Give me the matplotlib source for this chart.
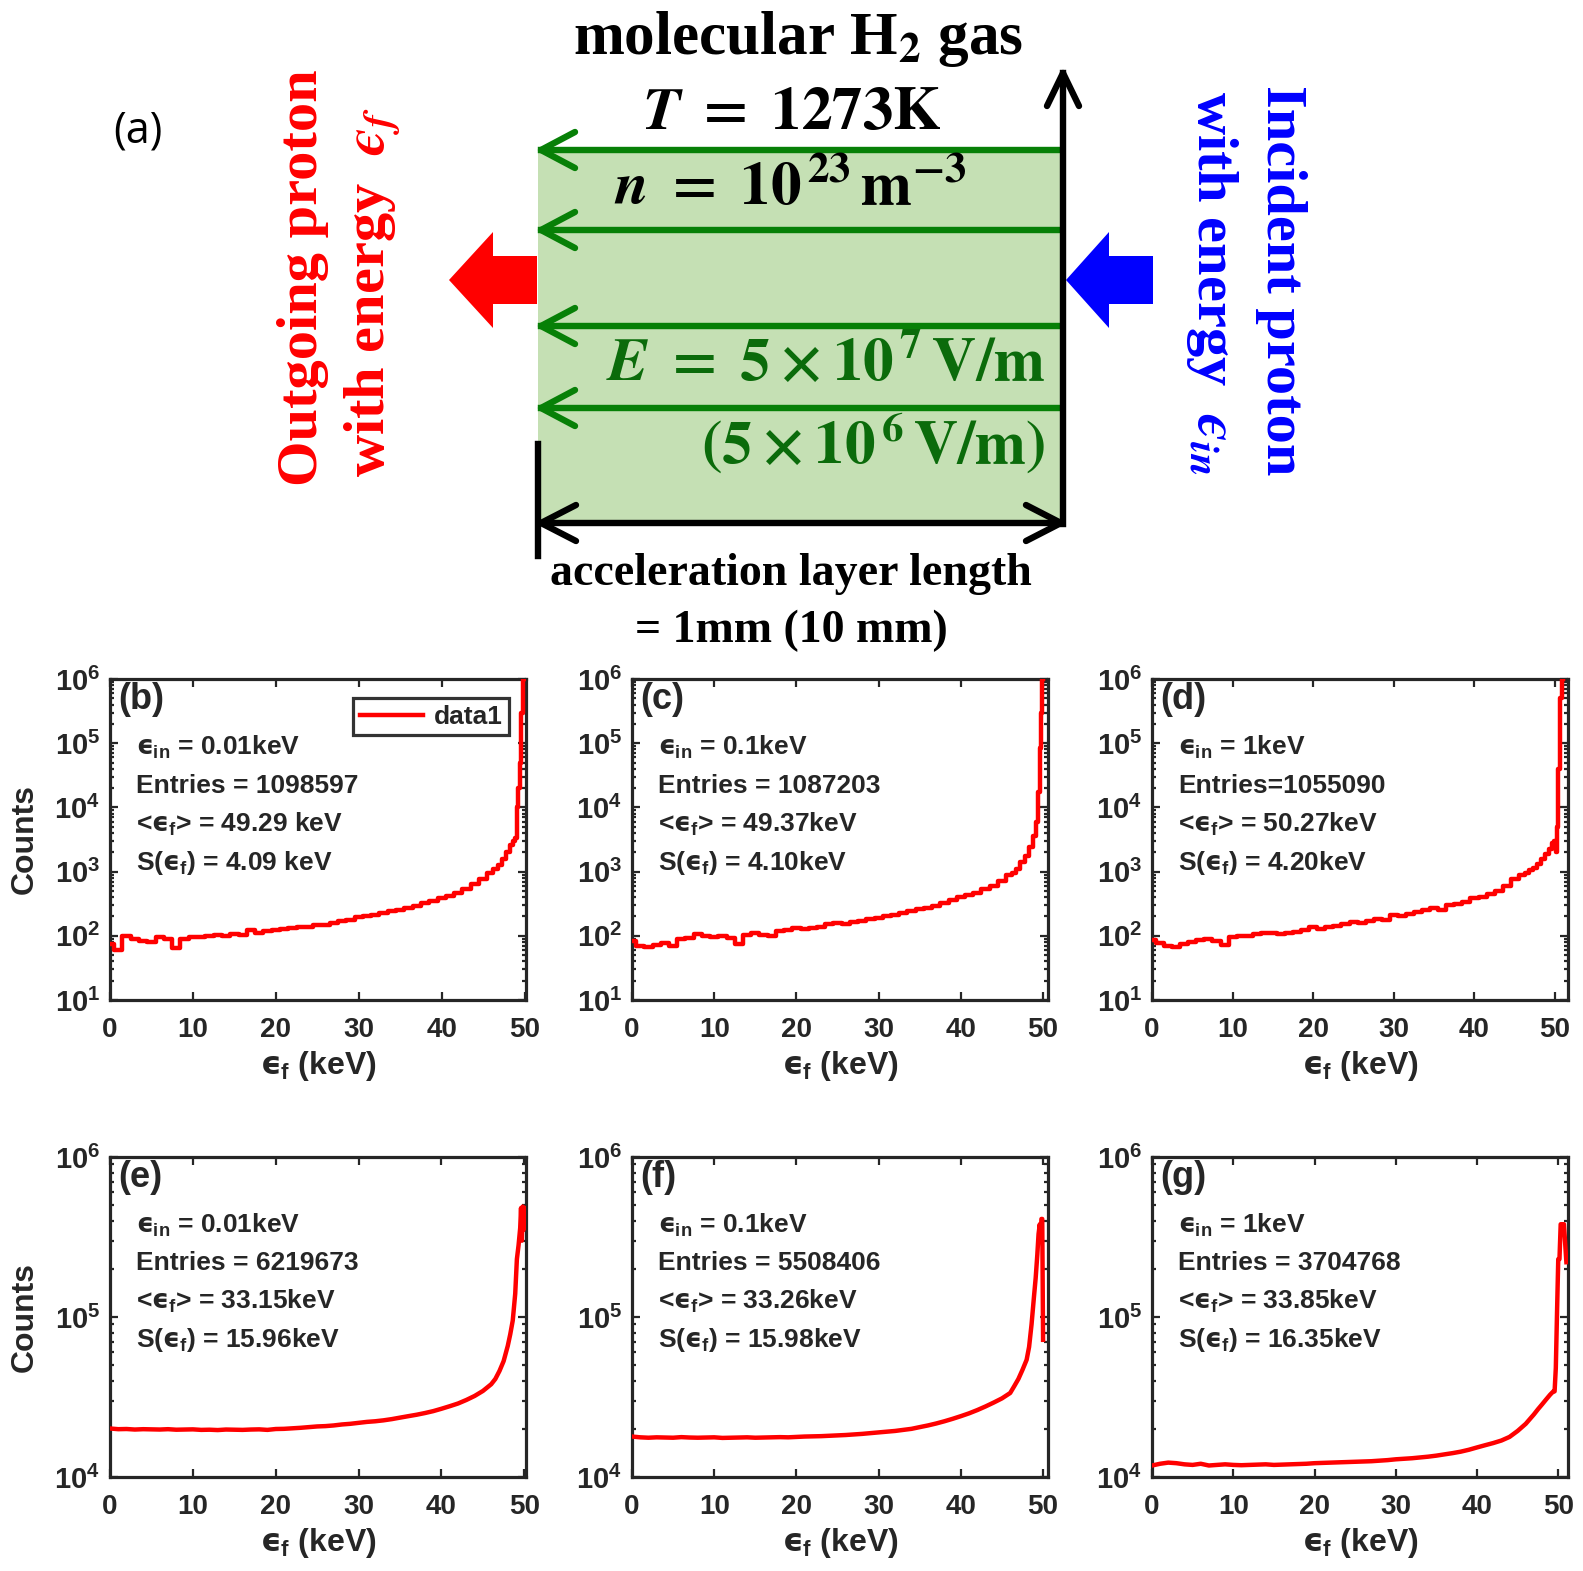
import numpy as np
import matplotlib
matplotlib.use('Agg')
import matplotlib.pyplot as plt
from matplotlib.patches import Polygon, Rectangle

plt.rcParams['font.family'] = ['Liberation Sans', 'DejaVu Sans']
plt.rcParams['font.weight'] = 'bold'
plt.rcParams['axes.labelweight'] = 'bold'
plt.rcParams['mathtext.fontset'] = 'custom'
plt.rcParams['mathtext.rm'] = 'Liberation Sans:bold'
plt.rcParams['mathtext.bf'] = 'Liberation Sans:bold'
plt.rcParams['mathtext.it'] = 'DejaVu Sans:bold'
plt.rcParams['mathtext.sf'] = 'Liberation Sans:bold'

EPS = '\u03f5'  # lunate epsilon

# ---------------- data ----------------
x_base = np.arange(47)  # 0..46 keV

y_b = [75, 60, 100, 88, 82, 80, 95, 88, 65, 90, 95, 97, 100, 103, 98, 106, 102, 125, 110, 118,
       125, 128, 132, 138, 135, 148, 145, 160, 170, 178, 195, 200, 210, 225, 240, 255, 270, 290,
       320, 350, 390, 420, 470, 540, 640, 760, 960]
xt_b = [46.5, 47, 47.5, 48, 48.5, 48.8, 49.0, 49.1, 49.3, 49.5, 49.7, 49.85, 50.0]
yt_b = [1080, 1250, 1550, 2000, 2600, 3000, 3300, 10000, 20000, 50000, 300000, 1000000, 1000000]

y_c = [82, 69, 68, 72, 78, 70, 88, 92, 105, 98, 95, 100, 92, 75, 102, 110, 104, 100, 118, 122,
       134, 128, 130, 138, 150, 160, 152, 165, 172, 182, 192, 200, 212, 225, 240, 260, 275, 295,
       320, 355, 395, 430, 470, 530, 600, 720, 880]
xt_c = [46.5, 47, 47.5, 48, 48.5, 49, 49.3, 49.5, 49.7, 49.8, 49.9, 50.0]
yt_c = [960, 1100, 1400, 1780, 2400, 3600, 6000, 17500, 85000, 300000, 1000000, 1000000]

y_d = [85, 78, 70, 68, 75, 80, 85, 88, 82, 72, 95, 100, 98, 105, 110, 112, 108, 112, 115, 125,
       137, 128, 135, 140, 150, 165, 160, 170, 185, 175, 210, 205, 220, 235, 250, 270, 255, 300,
       310, 340, 385, 400, 440, 500, 590, 760, 880]
xt_d = [46.5, 47, 47.5, 48, 48.5, 49, 49.5, 49.8, 50.0, 50.1, 50.3, 50.5, 50.7, 50.9, 51.0]
yt_d = [950, 1050, 1150, 1300, 1550, 1850, 2260, 2800, 3000, 2000, 5000, 40000, 500000, 1000000, 1000000]

y_e = [20100, 19900, 19950, 19800, 19900, 19850, 19800, 19900, 19750, 19800, 19850, 19700, 19750,
       19650, 19800, 19750, 19700, 19800, 19850, 19700, 19950, 20000, 20150, 20300, 20500, 20700,
       20800, 21000, 21300, 21500, 21800, 22100, 22300, 22600, 23000, 23500, 24000, 24500, 25100,
       25800, 26700, 27700, 28800, 30300, 32100, 34500, 38000]
xt_e = [46.5, 47, 47.5, 48, 48.3, 48.6, 48.9, 49.1, 49.3, 49.5, 49.6, 49.7, 49.8, 49.9, 50.0]
yt_e = [41000, 46000, 53000, 66000, 78000, 95000, 140000, 230000, 280000, 360000, 480000, 300000,
        490000, 350000, 480000]

y_f = [17900, 17700, 17600, 17700, 17650, 17600, 17750, 17650, 17600, 17650, 17700, 17550, 17600,
       17650, 17700, 17600, 17650, 17700, 17750, 17700, 17800, 17900, 17950, 18000, 18100, 18200,
       18300, 18450, 18600, 18800, 19000, 19200, 19400, 19700, 20000, 20500, 21000, 21600, 22300,
       23100, 24000, 25000, 26200, 27600, 29200, 31000, 33500]
xt_f = [46.5, 47, 47.5, 48, 48.3, 48.6, 48.9, 49.1, 49.3, 49.45, 49.6, 49.7, 49.8, 49.9, 50.0]
yt_f = [37000, 41000, 46800, 54000, 65000, 90000, 135000, 175000, 245000, 330000, 380000, 300000,
        410000, 410000, 72000]

y_g = [11800, 12100, 12300, 12200, 12000, 11900, 12100, 11800, 11900, 12000, 11900, 11850, 11900,
       11950, 12000, 11900, 11950, 12000, 12050, 12100, 12200, 12250, 12300, 12350, 12400, 12450,
       12500, 12550, 12650, 12750, 12900, 13000, 13100, 13250, 13400, 13600, 13850, 14100, 14400,
       14800, 15300, 15800, 16300, 16900, 17800, 19400, 21500]
xt_g = [46.5, 47, 47.5, 48, 48.5, 49, 49.4, 49.55, 49.7, 49.85, 50.0, 50.15, 50.3, 50.7, 51.0]
yt_g = [23000, 24600, 26500, 28400, 30500, 32700, 34300, 34300, 48000, 107000, 230000, 230000,
        380000, 380000, 220000]

panel_labels = ['(b)', '(c)', '(d)', '(e)', '(f)', '(g)']
eps_in = ['0.01keV', '0.1keV', '1keV', '0.01keV', '0.1keV', '1keV']
entries = ['Entries = 1098597', 'Entries = 1087203', 'Entries=1055090',
           'Entries = 6219673', 'Entries = 5508406', 'Entries = 3704768']
means = ['49.29 keV', '49.37keV', '50.27keV', '33.15keV', '33.26keV', '33.85keV']
stds = ['4.09 keV', '4.10keV', '4.20keV', '15.96keV', '15.98keV', '16.35keV']
xmax = [50.17, 50.6, 51.6, 50.2, 50.6, 51.2]
x_ticks = [0, 10, 20, 30, 40, 50]

W, H = 1583, 1571
fig = plt.figure(figsize=(W / 100, H / 100), dpi=100)

# ---------------- diagram (a) ----------------
ax0 = fig.add_axes([0, 0, 1, 1])
ax0.set_xlim(0, W)
ax0.set_ylim(H, 0)
ax0.axis('off')

GREEN = '#078007'
GTEXT = '#0b6b0b'
ax0.add_patch(Rectangle((538, 150), 1063 - 538, 523 - 150, facecolor='#c5e0b4', edgecolor='none', zorder=0))
for yy in [150, 230, 326, 408]:
    ax0.plot([1062, 541], [yy, yy], color=GREEN, lw=4.6, zorder=2)
    ax0.plot([575, 541, 575], [yy - 18, yy, yy + 18], color=GREEN, lw=4.6,
             solid_capstyle='round', zorder=2)
ax0.plot([1063, 1063], [524, 73], color='black', lw=4.6, zorder=3)
ax0.plot([1047, 1063, 1079], [106, 73, 106], color='black', lw=4.6, solid_capstyle='round', zorder=3)
ax0.plot([541, 1061], [523, 523], color='black', lw=4.6, zorder=3)
ax0.plot([576, 541, 576], [505, 523, 541], color='black', lw=4.6, solid_capstyle='round', zorder=3)
ax0.plot([1026, 1061, 1026], [505, 523, 541], color='black', lw=4.6, solid_capstyle='round', zorder=3)
ax0.plot([538, 538], [444, 556], color='black', lw=4.6, zorder=3)

ax0.add_patch(Polygon([(537, 256), (493, 256), (493, 232), (449, 280), (493, 328), (493, 304), (537, 304)],
                      closed=True, facecolor='#ff0000', edgecolor='none'))
ax0.add_patch(Polygon([(1153, 256), (1109, 256), (1109, 232), (1066, 280), (1109, 328), (1109, 304), (1153, 304)],
                      closed=True, facecolor='#0000ff', edgecolor='none'))

serif = ['Liberation Serif', 'DejaVu Serif']
ax0.text(798, 39, r'molecular H$\mathbf{_2}$ gas', family=serif, fontsize=44, weight='bold',
         ha='center', va='center', math_fontfamily='stix')
ax0.text(792, 113, r'$\mathbfit{T}\;\mathbf{=\;1273K}$', fontsize=44, ha='center', va='center',
         math_fontfamily='stix')
ax0.text(790, 190, r'$\mathbfit{n}\;\mathbf{=\;10^{\,23}\,m^{-3}}$', fontsize=44, ha='center', va='center',
         math_fontfamily='stix')
ax0.text(1045, 364, r'$\mathbfit{E}\;\mathbf{=\;5\times10^{\,7}\,V/m}$', fontsize=44, ha='right', va='center',
         color=GTEXT, math_fontfamily='stix')
ax0.text(1045, 444, r'$\mathbf{(5\times10^{\,6}\,V/m)}$', fontsize=44, ha='right', va='center',
         color=GTEXT, math_fontfamily='stix')
ax0.text(791, 574, 'acceleration layer length', family=serif, fontsize=33, weight='bold',
         ha='center', va='center')
ax0.text(791, 631, '= 1mm (10 mm)', family=serif, fontsize=33, weight='bold', ha='center', va='center')
ax0.text(138, 131, '(a)', family=['Open Sans', 'DejaVu Sans'], fontsize=31, weight='normal',
         ha='center', va='center')
ax0.text(303, 278, 'Outgoing proton', family=serif, fontsize=42, weight='bold', color='#ff0000',
         rotation=90, ha='center', va='center')
ax0.text(372, 292, 'with energy  $' + EPS + '_f$', family=serif, fontsize=42, weight='bold', color='#ff0000',
         rotation=90, ha='center', va='center', math_fontfamily='stix')
ax0.text(1281, 280, 'Incident proton', family=serif, fontsize=42, weight='bold', color='#0000ff',
         rotation=-90, ha='center', va='center')
ax0.text(1212, 283, 'with energy  $' + EPS + '_{in}$', family=serif, fontsize=42, weight='bold',
         color='#0000ff', rotation=-90, ha='center', va='center', math_fontfamily='stix')

# ---------------- histogram panels ----------------
GRAY = '#262626'


def rect(l, t, r, b):
    return [l / W, 1 - b / H, (r - l) / W, (b - t) / H]


lefts = [110, 632, 1152]
rows = [(679, 1000), (1157, 1477)]
series = [(y_b, xt_b, yt_b), (y_c, xt_c, yt_c), (y_d, xt_d, yt_d),
          (y_e, xt_e, yt_e), (y_f, xt_f, yt_f), (y_g, xt_g, yt_g)]

for i in range(6):
    r, c = divmod(i, 3)
    t, b = rows[r]
    l = lefts[c]
    ax = fig.add_axes(rect(l, t, l + 416, b))
    ybase, xt, yt = series[i]
    xs = np.concatenate([x_base, xt])
    ys = np.concatenate([ybase, yt])
    ds = 'steps-mid' if r == 0 else 'default'
    ax.plot(xs, ys, color='#ff0000', lw=3.2, label='data1', zorder=3, drawstyle=ds)
    ax.set_yscale('log')
    ax.set_xlim(0, xmax[i])
    if r == 0:
        ax.set_ylim(1e1, 1e6)
        yt_vals = [1, 2, 3, 4, 5, 6]
    else:
        ax.set_ylim(1e4, 1e6)
        yt_vals = [4, 5, 6]
    ax.set_yticks([10.0 ** k for k in yt_vals])
    ax.set_yticklabels([r'$\mathbf{10^{%d}}$' % k for k in yt_vals])
    ax.set_xticks(x_ticks)
    ax.set_xticklabels([str(v) for v in x_ticks])
    for sp in ax.spines.values():
        sp.set_linewidth(2.3)
        sp.set_color(GRAY)
    ax.tick_params(axis='both', which='both', direction='in', top=True, right=True,
                   colors=GRAY, labelcolor=GRAY, width=1.6)
    ax.tick_params(axis='x', labelsize=20, pad=12)
    ax.tick_params(axis='y', labelsize=21, pad=7)
    ax.tick_params(axis='both', which='major', length=6)
    ax.tick_params(axis='y', which='minor', length=3)
    ax.tick_params(axis='x', which='minor', bottom=False, top=False)
    ax.set_xlabel('$' + EPS + r'_{\mathrm{f}}$ (keV)', fontsize=23, color=GRAY)
    ax.xaxis.set_label_coords(0.5, -0.152)
    if c == 0:
        ax.set_ylabel('Counts', fontsize=23, color=GRAY)
        ax.yaxis.set_label_coords(-0.168, 0.5)
    ax.text(0.02, 0.935, panel_labels[i], transform=ax.transAxes, fontsize=26, color=GRAY,
            ha='left', va='center')
    ein = '$' + EPS + r'_{\mathrm{in}}$'
    ef = '$' + EPS + r'_{\mathrm{f}}$'
    txts = [ein + ' = ' + eps_in[i], entries[i],
            '<' + ef + '> = ' + means[i], 'S(' + ef + ') = ' + stds[i]]
    for k, s in enumerate(txts):
        ax.text(0.062, 1 - (68 + 38.6 * k) / 321, s, transform=ax.transAxes, fontsize=19,
                color=GRAY, ha='left', va='center')
    if i == 0:
        leg = ax.legend(loc='upper right', bbox_to_anchor=(0.96, 0.94), fontsize=19,
                        frameon=True, fancybox=False, handlelength=2.4, borderpad=0.25,
                        handletextpad=0.4, borderaxespad=0)
        leg.get_frame().set_edgecolor('black')
        leg.get_frame().set_linewidth(2.3)
        for tx in leg.get_texts():
            tx.set_color(GRAY)

fig.savefig('out.png', dpi=100)
